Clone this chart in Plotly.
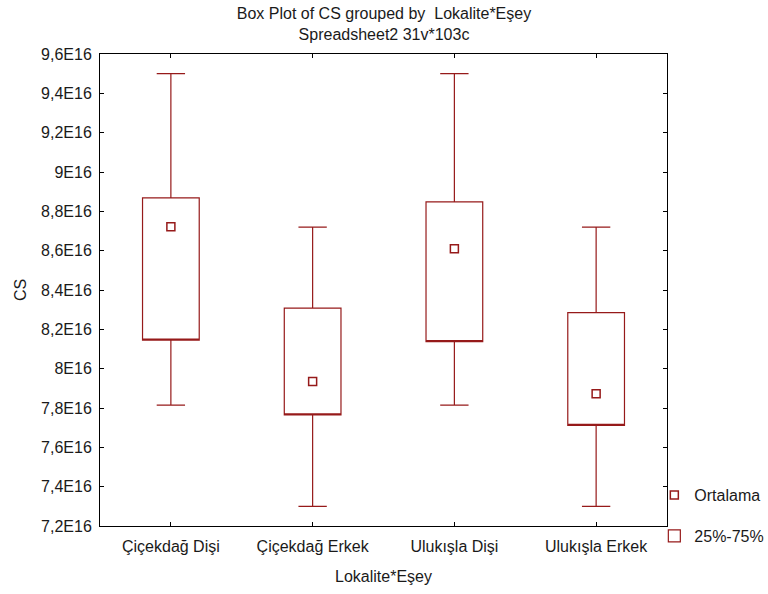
import plotly.graph_objects as go

categories = ["Çiçekdağ Dişi", "Çiçekdağ Erkek", "Ulukışla Dişi", "Ulukışla Erkek"]
q1_vals = [8.145e16, 7.765e16, 8.138e16, 7.712e16]
q3_vals = [8.868e16, 8.308e16, 8.848e16, 8.285e16]
min_vals = [7.815e16, 7.300e16, 7.815e16, 7.300e16]
max_vals = [9.500e16, 8.720e16, 9.500e16, 8.720e16]
mean_vals = [8.722e16, 7.935e16, 8.610e16, 7.872e16]
y_tick_vals = [7.2e16, 7.4e16, 7.6e16, 7.8e16, 8.0e16, 8.2e16, 8.4e16, 8.6e16, 8.8e16, 9.0e16, 9.2e16, 9.4e16, 9.6e16]
y_tick_text = ["7,2E16", "7,4E16", "7,6E16", "7,8E16", "8E16", "8,2E16", "8,4E16", "8,6E16", "8,8E16", "9E16", "9,2E16", "9,4E16", "9,6E16"]

RED = "#961a1a"
FONT = "Liberation Sans"
TXT = "#1a1a1a"
FS = 16

fig = go.Figure()
fig.add_trace(go.Box(
    x=categories, q1=q1_vals, median=q1_vals, q3=q3_vals,
    lowerfence=min_vals, upperfence=max_vals,
    boxpoints=False, width=0.4, whiskerwidth=0.5,
    fillcolor="rgba(255,255,255,0)", line=dict(color=RED, width=1.2),
    name="25%-75%", legend="legend2", hoverinfo="skip",
))
fig.add_trace(go.Scatter(
    x=categories, y=mean_vals, mode="markers", name="Ortalama",
    marker=dict(symbol="square-open", size=8, color=RED, line=dict(width=1.5, color=RED)),
    legend="legend",
))

fig.update_layout(
    width=768, height=594,
    margin=dict(l=100, r=101, t=54, b=68, autoexpand=False),
    paper_bgcolor="white", plot_bgcolor="white",
    font=dict(family=FONT, size=FS, color=TXT),
    title=dict(text="Box Plot of CS grouped by  Lokalite*Eşey<br>Spreadsheet2 31v*103c",
               x=0.5, xanchor="center", yref="container", y=0.968, yanchor="top",
               font=dict(family=FONT, size=FS, color=TXT)),
    showlegend=True,
    legend=dict(xref="container", yref="container", x=0.852, xanchor="left",
                y=0.1667, yanchor="middle",
                bgcolor="rgba(0,0,0,0)", font=dict(size=FS), itemwidth=30),
    legend2=dict(xref="container", yref="container", x=0.852, xanchor="left",
                 y=0.0976, yanchor="middle",
                 bgcolor="rgba(0,0,0,0)", font=dict(size=FS), itemwidth=30),
    xaxis=dict(
        type="category", range=[-0.5, 3.5],
        showline=True, linecolor="black", linewidth=1, mirror="allticks",
        ticks="inside", ticklen=4, tickcolor="black", showgrid=False, zeroline=False,
        ticklabelstandoff=6,
        title=dict(text="Lokalite*Eşey", standoff=16, font=dict(size=FS)),
        tickfont=dict(size=FS),
    ),
    yaxis=dict(
        range=[7.2e16, 9.6e16], tickvals=y_tick_vals, ticktext=y_tick_text,
        showline=True, linecolor="black", linewidth=1, mirror="allticks",
        ticks="inside", ticklen=4, tickcolor="black", showgrid=False, zeroline=False,
        ticklabelstandoff=4,
        title=dict(text="CS", standoff=10, font=dict(size=FS)),
        tickfont=dict(size=FS),
    ),
)

fig.write_html("out.html")
